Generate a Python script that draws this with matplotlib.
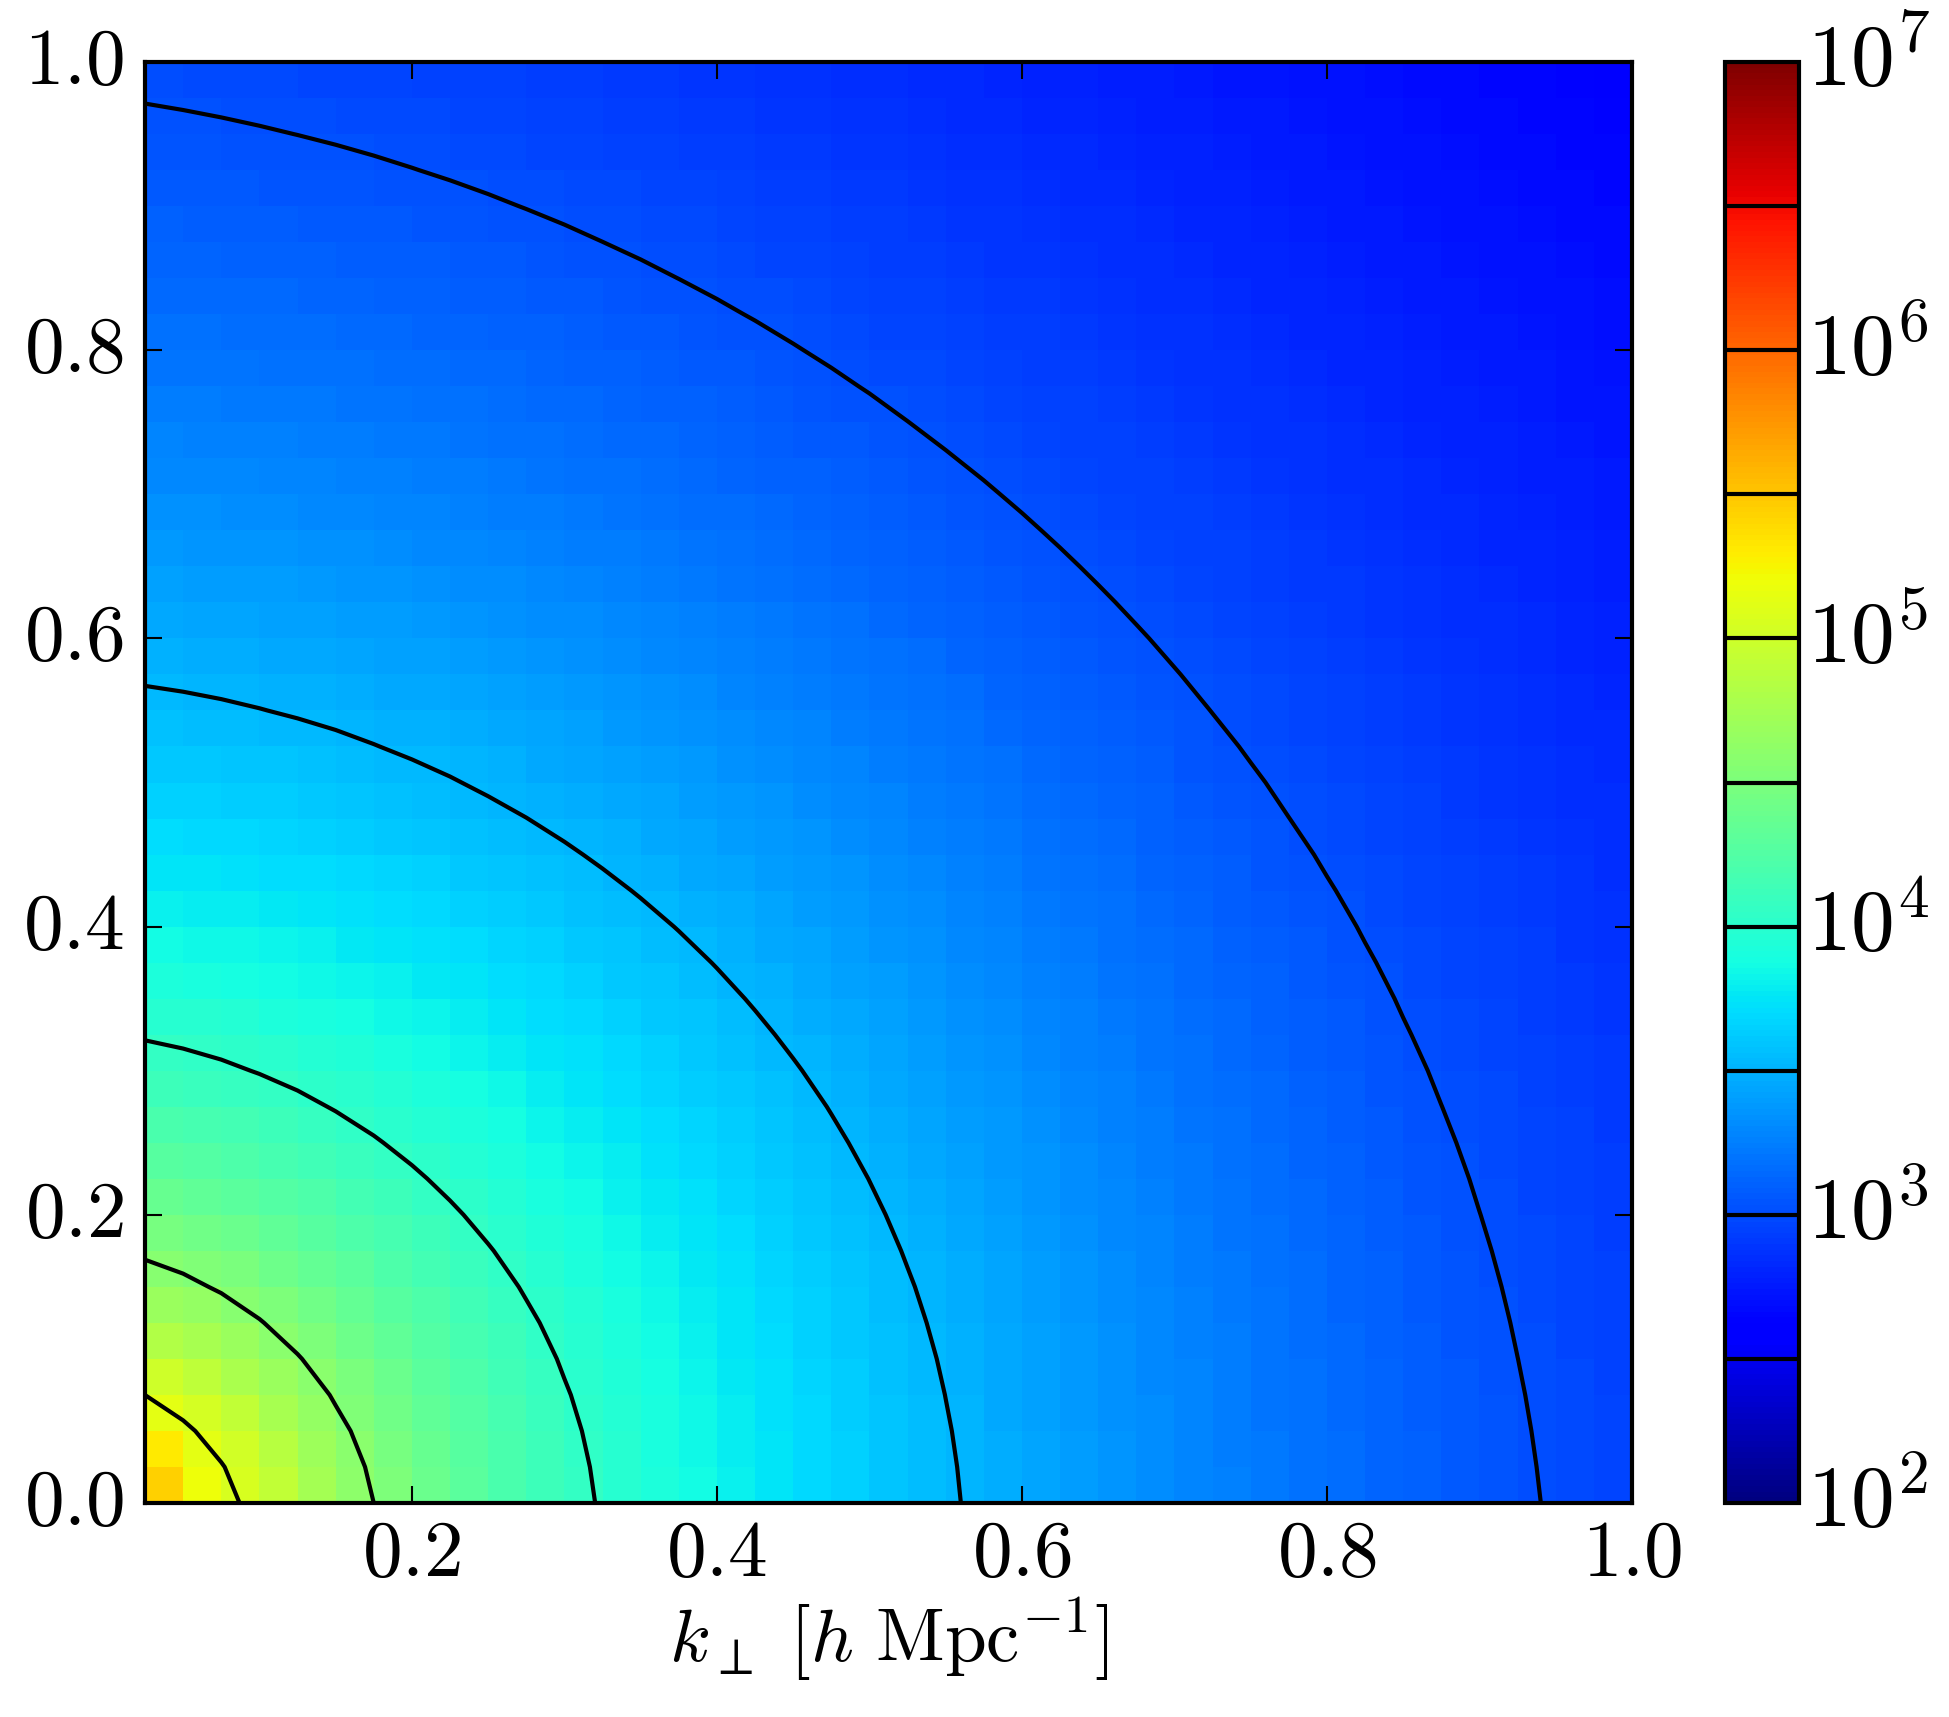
import numpy as np
import matplotlib
matplotlib.use('Agg')
from matplotlib import pyplot as plt
from matplotlib.colors import LogNorm
from matplotlib.ticker import FuncFormatter

plt.style.use('classic')
plt.rcParams['mathtext.fontset'] = 'cm'
plt.rcParams['xtick.labelsize'] = 19
plt.rcParams['ytick.labelsize'] = 19

# bin values in h/Mpc (pcolor uses them as edges, contour as nodes)
k_perp = np.arange(1, 41) * 0.025   # 0.025 .. 1.0
k_par = np.arange(0, 41) * 0.025    # 0.0 .. 1.0

# log10 P at radius k, read off the contour crossings and colours
# along k_perp axis, along the diagonal, along k_par axis
logP_prof = [5.45, 5.2, 5.0, 4.5, 4.0, 3.5, 3.0, 2.6]
k_prof_perp = [0.025, 0.05, 0.09, 0.175, 0.32, 0.56, 0.94, 1.42]
k_prof_diag = [0.025, 0.045, 0.078, 0.162, 0.308, 0.546, 0.91, 1.414]
k_prof_par = [0.025, 0.05, 0.084, 0.175, 0.325, 0.57, 0.975, 1.46]

contour_levels = 10 ** np.arange(2.5, 7.0, 0.5)
cbar_exps = [2, 3, 4, 5, 6, 7]

KP, KL = np.meshgrid(k_perp, k_par)
k = np.sqrt(KP ** 2 + KL ** 2)
t = np.arctan2(KL, KP) / (np.pi / 4)   # 0 on k_perp axis, 1 diagonal, 2 on k_par axis
lk = np.log10(k)
p0, p1, p2 = [np.interp(lk, np.log10(kp), logP_prof) for kp in (k_prof_perp, k_prof_diag, k_prof_par)]
# smooth (quadratic) blend between the three directions
logP = p0 * (t - 1) * (t - 2) / 2.0 - p1 * t * (t - 2) + p2 * t * (t - 1) / 2.0
P = 10 ** logP

W, H = 1949, 1717
fig = plt.figure(figsize=(W / 300., H / 300.), dpi=300)
fig.patch.set_facecolor('white')
ax = fig.add_axes([145. / W, 1 - 1503. / H, (1632 - 145.) / W, (1503 - 62.) / H])
cax = fig.add_axes([1725. / W, 1 - 1503. / H, 74. / W, (1503 - 62.) / H])

norm = LogNorm(vmin=1e2, vmax=1e7)
mesh = ax.pcolormesh(k_perp, k_par, P[:-1, :-1], cmap='jet', norm=norm, shading='flat')
cs = ax.contour(k_perp, k_par, P, levels=contour_levels, colors='k', linewidths=1.0)

ax.set_xlim(0.025, 1.0)
ax.set_ylim(0.0, 1.0)
ax.set_xticks([0.2, 0.4, 0.6, 0.8, 1.0])
ax.set_yticks([0.0, 0.2, 0.4, 0.6, 0.8, 1.0])
fmt = FuncFormatter(lambda v, p: r'$%.1f$' % v)
ax.xaxis.set_major_formatter(fmt)
ax.yaxis.set_major_formatter(fmt)
ax.tick_params(axis='x', pad=3)
ax.tick_params(axis='y', pad=5)
ax.set_xlabel(r'$k_\perp\ [h\ \mathrm{Mpc}^{-1}]$', fontsize=18, labelpad=1)

cb = fig.colorbar(mesh, cax=cax)
cb.add_lines(cs)
cb.set_ticks([10.0 ** e for e in cbar_exps], labels=[r'$10^{%d}$' % e for e in cbar_exps])
cax.minorticks_off()
cax.tick_params(which='both', labelsize=21, length=0, pad=2)

fig.savefig('out.png', dpi=300, facecolor='white')
